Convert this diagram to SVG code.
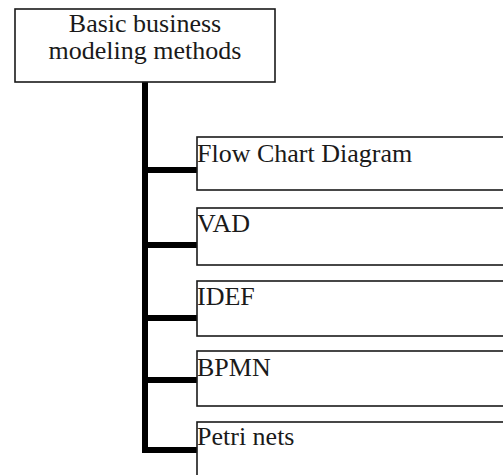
<svg xmlns="http://www.w3.org/2000/svg" width="503" height="475" viewBox="0 0 503 475">
  <style>
    .box { fill: #fff; stroke: #1a1a1a; stroke-width: 1.6; }
    .label { font-family: "Liberation Serif", "Times New Roman", serif; font-size: 26px; fill: #1a1a1a; }
    .link { fill: none; stroke: #000; stroke-width: 6; }
  </style>
  <rect width="503" height="475" fill="#fff"/>

  <!-- tree connectors: trunk and branches -->
  <g id="connectors">
    <path class="link" d="M145 82 V450 H197"/>
    <path class="link" d="M145 170 H197"/>
    <path class="link" d="M145 245 H197"/>
    <path class="link" d="M145 318 H197"/>
    <path class="link" d="M145 380 H197"/>
  </g>

  <!-- root -->
  <g id="root">
    <rect class="box" x="15" y="9" width="260" height="73"/>
    <text class="label" x="145" y="32" text-anchor="middle">Basic business</text>
    <text class="label" x="145" y="59" text-anchor="middle">modeling methods</text>
  </g>

  <!-- children -->
  <g id="flow-chart">
    <rect class="box" x="197" y="137" width="320" height="53"/>
    <text class="label" x="197" y="162">Flow Chart Diagram</text>
  </g>
  <g id="vad">
    <rect class="box" x="197" y="208" width="320" height="57"/>
    <text class="label" x="197" y="232">VAD</text>
  </g>
  <g id="idef">
    <rect class="box" x="197" y="281" width="320" height="55"/>
    <text class="label" x="197" y="305">IDEF</text>
  </g>
  <g id="bpmn">
    <rect class="box" x="197" y="351" width="320" height="55"/>
    <text class="label" x="197" y="376">BPMN</text>
  </g>
  <g id="petri-nets">
    <rect class="box" x="197" y="422" width="320" height="70"/>
    <text class="label" x="197" y="445">Petri nets</text>
  </g>
</svg>
